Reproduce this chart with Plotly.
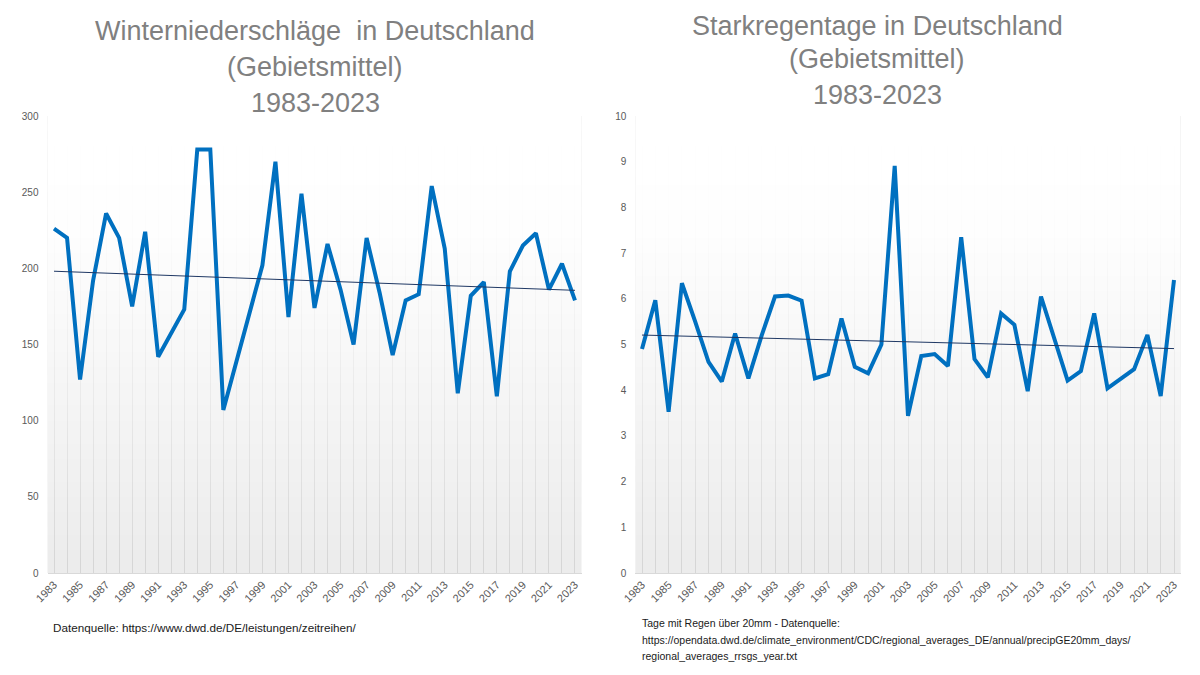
import numpy as np
import plotly.graph_objects as go

years = list(range(1983, 2024))
winter_precip = [226, 220, 127, 192, 236, 220, 175, 224, 142, 157, 173, 278, 278, 107, 138,
                 170, 202, 270, 168, 249, 174, 216, 186, 150, 220, 184, 143, 179, 183, 254,
                 213, 118, 182, 191, 116, 198, 215, 223, 186, 203, 179]
heavy_rain_days = [4.9, 5.97, 3.53, 6.34, 5.5, 4.62, 4.19, 5.24, 4.26, 5.2, 6.05, 6.07, 5.96,
                   4.26, 4.35, 5.57, 4.51, 4.37, 5.0, 8.91, 3.44, 4.75, 4.79, 4.53, 7.35, 4.68,
                   4.28, 5.68, 5.43, 3.98, 6.05, 5.1, 4.21, 4.42, 5.68, 4.04, 4.24, 4.46, 5.21,
                   3.87, 6.41]
x_tick_years = list(range(1983, 2024, 2))
left_yticks = [0, 50, 100, 150, 200, 250, 300]
right_yticks = list(range(0, 11))

left_title_lines = ["Winterniederschläge  in Deutschland", "(Gebietsmittel)", "1983-2023"]
right_title_lines = ["Starkregentage in Deutschland", "(Gebietsmittel)", "1983-2023"]
left_note_lines = ["Datenquelle: https://www.dwd.de/DE/leistungen/zeitreihen/"]
right_note_lines = ["Tage mit Regen über 20mm - Datenquelle:",
                    "https://opendata.dwd.de/climate_environment/CDC/regional_averages_DE/annual/precipGE20mm_days/",
                    "regional_averages_rrsgs_year.txt"]

BLUE = "#0070C0"
TREND = "#1F3864"
TICK = "#595959"
FONT = "Liberation Sans"
OFF = 8  # page body margin


def px(x):
    return (x - OFF) / 1200


def py(y):
    return 1 - (y - OFF) / 675


def trend(xs, ys):
    k, d = np.polyfit(xs, ys, 1)
    return [k * x + d for x in xs]


fig = go.Figure()
n = 60
fade = [[i / (n - 1)] for i in range(n)]
for xa, ya, vals, ymax in [("x", "y", winter_precip, 300), ("x2", "y2", heavy_rain_days, 10)]:
    # white fade overlay above the grid (gradient background)
    fig.add_trace(go.Heatmap(x=[1982.5, 2023.5], y=list(np.linspace(0, ymax, n + 1)), z=fade,
                             xaxis=xa, yaxis=ya, zmin=0, zmax=1, showscale=False,
                             colorscale=[[0, "rgba(255,255,255,0)"], [0.75, "rgba(255,255,255,0.92)"],
                                         [1, "rgba(255,255,255,1)"]],
                             hoverinfo="skip"))
    fig.add_trace(go.Scatter(x=years, y=vals, xaxis=xa, yaxis=ya, mode="lines",
                             line=dict(color=BLUE, width=4), showlegend=False,
                             hoverinfo="x+y"))
    fig.add_trace(go.Scatter(x=years, y=trend(years, vals), xaxis=xa, yaxis=ya, mode="lines",
                             line=dict(color=TREND, width=1), showlegend=False,
                             hoverinfo="skip"))

ydom = [py(573), py(116)]
xdom1 = [px(47.5), px(581.5)]
xdom2 = [px(635.35), px(1180.65)]

axis_common = dict(showgrid=True, gridcolor="#d6d6d6", gridwidth=1, zeroline=False,
                   showline=True, linecolor="#d9d9d9", linewidth=1, ticks="",
                   tickvals=x_tick_years, tickangle=-45, automargin=False,
                   tickfont=dict(family=FONT, size=11, color=TICK),
                   range=[1982.5, 2023.5])
yaxis_common = dict(domain=ydom, showgrid=False, zeroline=False, showline=False, ticks="",
                    automargin=False, ticklabelstandoff=8,
                    tickfont=dict(family=FONT, size=10, color=TICK))

fig.update_layout(
    template="none",
    width=1200, height=675,
    margin=dict(l=0, r=0, t=0, b=0, autoexpand=False),
    paper_bgcolor="white", plot_bgcolor="#ececec",
    font=dict(family=FONT),
    xaxis=dict(domain=xdom1, anchor="y", **axis_common),
    xaxis2=dict(domain=xdom2, anchor="y2", **axis_common),
    yaxis=dict(anchor="x", range=[0, 300], tickvals=left_yticks, **yaxis_common),
    yaxis2=dict(anchor="x2", range=[0, 10], tickvals=right_yticks, **yaxis_common),
)
# vertical grid at every year via minor grid
fig.update_xaxes(minor=dict(tickvals=years, showgrid=True, gridcolor="#d6d6d6", gridwidth=1))

title_font = dict(family=FONT, size=27, color="#808080")
for lines, cx, ys in [(left_title_lines, 315, [31, 67, 103]),
                      (right_title_lines, 877, [26, 59, 95])]:
    for txt, yy in zip(lines, ys):
        fig.add_annotation(text=txt, xref="paper", yref="paper", x=px(cx), y=py(yy),
                           xanchor="center", yanchor="middle", showarrow=False, font=title_font,
                           borderpad=0)

for lines, x0, ys, size in [(left_note_lines, 51, [627], 11.7),
                            (right_note_lines, 640, [623, 640, 656], 10.5)]:
    for txt, yy in zip(lines, ys):
        fig.add_annotation(text=txt, xref="paper", yref="paper", x=px(x0), y=py(yy),
                           xanchor="left", yanchor="middle", showarrow=False,
                           font=dict(family=FONT, size=size, color="#1a1a1a"))

fig.write_html("out.html")
